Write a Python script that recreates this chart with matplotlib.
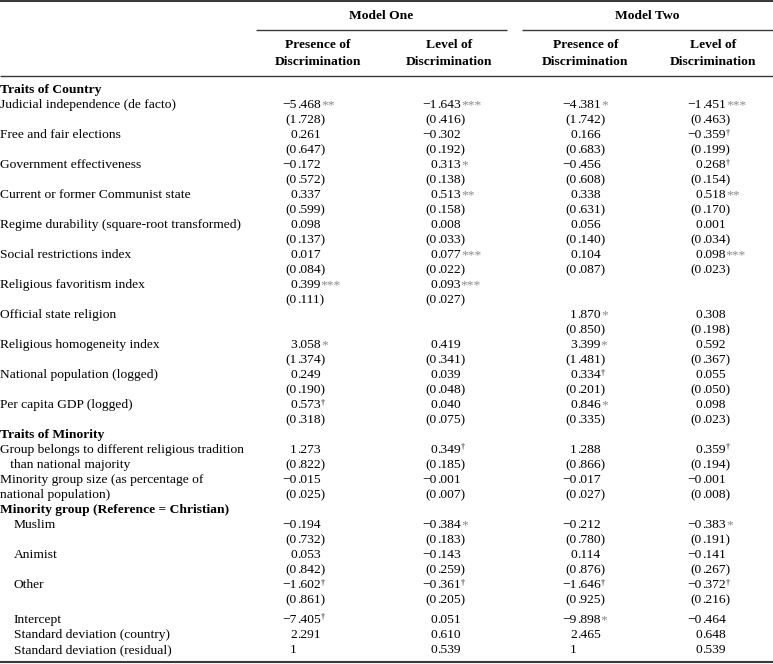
import matplotlib
matplotlib.use("Agg")
import matplotlib.pyplot as plt

# ---------------- data ----------------
model_names = ["Model One", "Model Two"]
column_headers = [["Presence of", "Discrimination"], ["Level of", "Discrimination"],
                  ["Presence of", "Discrimination"], ["Level of", "Discrimination"]]

country_labels = ["Judicial independence (de facto)", "Free and fair elections",
                  "Government effectiveness", "Current or former Communist state",
                  "Regime durability (square-root transformed)", "Social restrictions index",
                  "Religious favoritism index", "Official state religion",
                  "Religious homogeneity index", "National population (logged)",
                  "Per capita GDP (logged)"]
minority_labels = [["Group belongs to different religious tradition", "   than national majority"],
                   ["Minority group size (as percentage of", "national population)"]]
group_labels = ["Muslim", "Animist", "Other"]
extra_labels = ["Intercept", "Standard deviation (country)", "Standard deviation (residual)"]

m1_presence_coef = ["−5.468**", "0.261", "−0.172", "0.337", "0.098", "0.017", "0.399***", "",
                    "3.058*", "0.249", "0.573†", "1.273", "−0.015", "−0.194", "0.053", "−1.602†",
                    "−7.405†", "2.291", "1"]
m1_presence_se = ["1.728", "0.647", "0.572", "0.599", "0.137", "0.084", "0.111", "", "1.374",
                  "0.190", "0.318", "0.822", "0.025", "0.732", "0.842", "0.861"]
m1_level_coef = ["−1.643***", "−0.302", "0.313*", "0.513**", "0.008", "0.077***", "0.093***", "",
                 "0.419", "0.039", "0.040", "0.349†", "−0.001", "−0.384*", "−0.143", "−0.361†",
                 "0.051", "0.610", "0.539"]
m1_level_se = ["0.416", "0.192", "0.138", "0.158", "0.033", "0.022", "0.027", "", "0.341",
               "0.048", "0.075", "0.185", "0.007", "0.183", "0.259", "0.205"]
m2_presence_coef = ["−4.381*", "0.166", "−0.456", "0.338", "0.056", "0.104", "", "1.870*",
                    "3.399*", "0.334†", "0.846*", "1.288", "−0.017", "−0.212", "0.114", "−1.646†",
                    "−9.898*", "2.465", "1"]
m2_presence_se = ["1.742", "0.683", "0.608", "0.631", "0.140", "0.087", "", "0.850", "1.481",
                  "0.201", "0.335", "0.866", "0.027", "0.780", "0.876", "0.925"]
m2_level_coef = ["−1.451***", "−0.359†", "0.268†", "0.518**", "0.001", "0.098***", "", "0.308",
                 "0.592", "0.055", "0.098", "0.359†", "−0.001", "−0.383*", "−0.141", "−0.372†",
                 "−0.464", "0.648", "0.539"]
m2_level_se = ["0.463", "0.199", "0.154", "0.170", "0.034", "0.023", "", "0.198", "0.367",
               "0.050", "0.023", "0.194", "0.008", "0.191", "0.267", "0.216"]

columns = [(m1_presence_coef, m1_presence_se), (m1_level_coef, m1_level_se),
           (m2_presence_coef, m2_presence_se), (m2_level_coef, m2_level_se)]

# ---------------- layout ----------------
W, H = 773, 664
fig = plt.figure(figsize=(W / 100, H / 100), dpi=100)
ax = fig.add_axes([0, 0, 1, 1])
ax.set_xlim(0, W)
ax.set_ylim(H, 0)
ax.axis("off")

FONT = "Liberation Serif"
FS = 9.7
STAR_C = "#8a8a8a"
RULE_C = "#3a3a3a"
renderer = fig.canvas.get_renderer()

def line_y(i):
    y = 89.5 + 15 * i
    if i >= 35:
        y += 5
    return y

def put(x, yc, s, ha="left", bold=False, color="black", size=FS):
    return ax.text(x, yc + 3.8, s, ha=ha, va="baseline", fontsize=size, family=FONT,
                   fontweight="bold" if bold else "normal", color=color)

# rules
ax.plot([0, W], [1.2, 1.2], color=RULE_C, lw=1.5, solid_capstyle="butt")
ax.plot([256, 507], [29.5, 29.5], color=RULE_C, lw=1.0, solid_capstyle="butt")
ax.plot([522, W], [29.5, 29.5], color=RULE_C, lw=1.0, solid_capstyle="butt")
ax.plot([0, W], [76, 76], color=RULE_C, lw=1.0, solid_capstyle="butt")
ax.plot([0, W], [662, 662], color=RULE_C, lw=1.5, solid_capstyle="butt")

# headers
for name, xc in zip(model_names, [381.5, 647.5]):
    put(xc, 15, name, ha="center", bold=True)
for hdr, xc in zip(column_headers, [318, 449, 585.5, 713]):
    put(xc, 44, hdr[0], ha="center", bold=True)
    put(xc, 61, hdr[1], ha="center", bold=True)

# row labels
put(0, line_y(0), "Traits of Country", bold=True)
coef_lines, se_lines = [], []
for k, lab in enumerate(country_labels):
    put(0, line_y(1 + 2 * k), lab)
    coef_lines.append(1 + 2 * k)
    se_lines.append(2 + 2 * k)
put(0, line_y(23), "Traits of Minority", bold=True)
for k, (l1, l2) in enumerate(minority_labels):
    put(0, line_y(24 + 2 * k), l1)
    put(0, line_y(25 + 2 * k), l2)
    coef_lines.append(24 + 2 * k)
    se_lines.append(25 + 2 * k)
put(0, line_y(28), "Minority group (Reference = Christian)", bold=True)
for k, lab in enumerate(group_labels):
    put(14, line_y(29 + 2 * k), lab)
    coef_lines.append(29 + 2 * k)
    se_lines.append(30 + 2 * k)
for k, lab in enumerate(extra_labels):
    put(14, line_y(35 + k), lab)
    coef_lines.append(35 + k)


def draw_number(xdec, yc, s, paren=False):
    if not s:
        return
    core = s.rstrip("*†")
    marks = s[len(core):]
    if "." in core:
        ip, fp = core.split(".")
        fp = "." + fp
    else:
        ip, fp = core, ""
    left = ("(" if paren else "") + ip
    right = fp + (")" if paren else "")
    put(xdec, yc, left, ha="right")
    t = put(xdec, yc, right, ha="left")
    if marks:
        bb = t.get_window_extent(renderer=renderer)
        xr = ax.transData.inverted().transform((bb.x1, bb.y0))[0]
        if "†" in marks:
            put(xr + 0.3, yc - 3.8, marks, color="black", size=FS * 0.6)
        else:
            put(xr + 0.3, yc, marks, color=STAR_C)


dec_x = [297, 437, 577, 702]
for (coefs, ses), xd in zip(columns, dec_x):
    for s, li in zip(coefs, coef_lines):
        draw_number(xd, line_y(li), s)
    for s, li in zip(ses, se_lines):
        draw_number(xd, line_y(li), s, paren=True)

fig.savefig("out.png", dpi=100)
